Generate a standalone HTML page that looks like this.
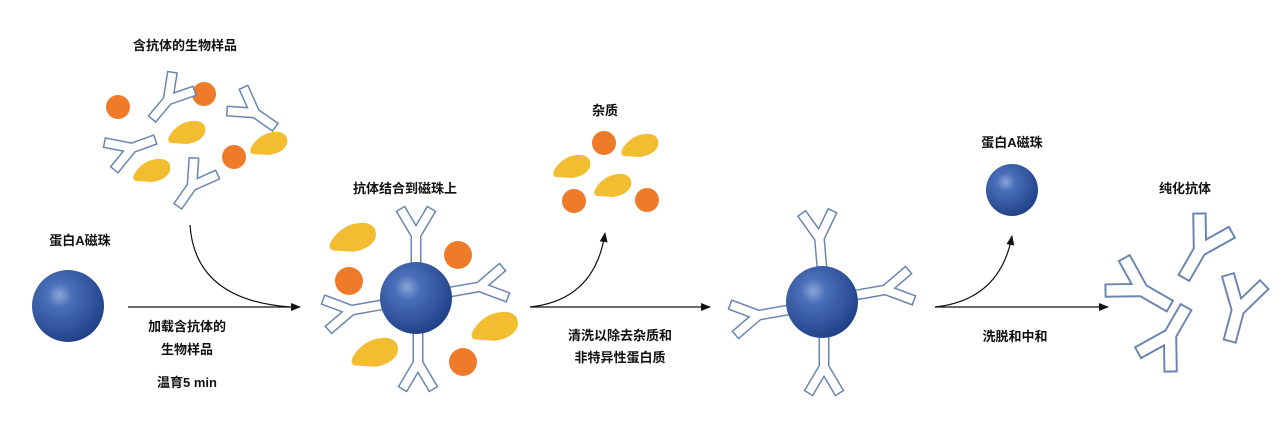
<!DOCTYPE html>
<html><head><meta charset="utf-8"><style>
body{margin:0;background:#fff;}
text{font-family:"Liberation Sans","Noto Sans CJK SC",sans-serif;font-weight:bold;font-size:13px;fill:#111;text-anchor:middle;}
</style></head><body>
<svg width="1280" height="426" viewBox="0 0 1280 426" xmlns="http://www.w3.org/2000/svg">
<defs>
<radialGradient id="bg" cx="0.38" cy="0.35" r="0.7">
<stop offset="0" stop-color="#8aa6da"/><stop offset="0.25" stop-color="#4a6fb8"/><stop offset="1" stop-color="#1e3f86"/>
</radialGradient>
<g id="ab">
<path d="M0,20 L0,0 M-12,-20 L0,0 L12,-20" fill="none" stroke="#6a86b0" stroke-width="11" stroke-linecap="square"/>
<path d="M0,20 L0,0 M-12,-20 L0,0 L12,-20" fill="none" stroke="#fff" stroke-width="8" stroke-linecap="square"/>
</g>
<g id="abb">
<path d="M0,0 L0,-30 M-13,-52 L0,-30 L13,-52" fill="none" stroke="#6a86b0" stroke-width="11" stroke-linecap="square"/>
<path d="M0,0 L0,-30 M-13,-52 L0,-30 L13,-52" fill="none" stroke="#fff" stroke-width="8" stroke-linecap="square"/>
</g>
<path id="tri" d="M-16,10 Q-22,8 -15,-1 Q-5,-13 10,-12 Q20,-10 18,0 Q14,9 0,11 Z" fill="#f2bd30"/>
<marker id="ah" markerWidth="10" markerHeight="8" refX="9" refY="4" orient="auto" markerUnits="userSpaceOnUse"><path d="M0,0 L10,4 L0,8 Z" fill="#111"/></marker>
</defs>

<circle cx="118" cy="107" r="12" fill="#ef7a2a"/>
<circle cx="204" cy="94" r="12" fill="#ef7a2a"/>
<circle cx="234" cy="157" r="12" fill="#ef7a2a"/>
<use href="#ab" transform="translate(168,100) rotate(40)"/>
<use href="#ab" transform="translate(255,113) rotate(-55)"/>
<use href="#ab" transform="translate(132,148) rotate(-110)"/>
<use href="#ab" transform="translate(192,186) rotate(35)"/>
<use href="#tri" transform="translate(187,133)"/>
<use href="#tri" transform="translate(269,144)"/>
<use href="#tri" transform="translate(152,171)"/>
<text x="185" y="50">含抗体的生物样品</text>

<circle cx="68" cy="306" r="36" fill="url(#bg)"/>
<text x="80" y="245">蛋白A磁珠</text>

<path d="M128,307 L300,307" stroke="#111" stroke-width="1.2" marker-end="url(#ah)"/>
<path d="M190,225 Q195,300 290,307" fill="none" stroke="#111" stroke-width="1.2"/>
<text x="187" y="331">加载含抗体的</text>
<text x="187" y="354">生物样品</text>
<text x="187" y="387">温育5 min</text>

<use href="#abb" transform="translate(416,265) rotate(0)"/>
<use href="#abb" transform="translate(450,292) rotate(80)"/>
<use href="#abb" transform="translate(381,305) rotate(-100)"/>
<use href="#abb" transform="translate(418,333) rotate(180)"/>
<circle cx="416" cy="298" r="36" fill="url(#bg)"/>
<circle cx="349" cy="281" r="14" fill="#ef7a2a"/>
<circle cx="458" cy="255" r="14" fill="#ef7a2a"/>
<circle cx="463" cy="362" r="14" fill="#ef7a2a"/>
<use href="#tri" transform="translate(353,238) scale(1.25)"/>
<use href="#tri" transform="translate(495,327) scale(1.25)"/>
<use href="#tri" transform="translate(375,353) scale(1.25)"/>
<text x="405" y="193">抗体结合到磁珠上</text>

<path d="M530,307 L710,307" stroke="#111" stroke-width="1.2" marker-end="url(#ah)"/>
<path d="M530,307 Q595,300 605,233" fill="none" stroke="#111" stroke-width="1.2" marker-end="url(#ah)"/>
<text x="605" y="115">杂质</text>
<circle cx="604" cy="143" r="12" fill="#ef7a2a"/>
<circle cx="574" cy="201" r="12" fill="#ef7a2a"/>
<circle cx="647" cy="200" r="12" fill="#ef7a2a"/>
<use href="#tri" transform="translate(572,167)"/>
<use href="#tri" transform="translate(640,146)"/>
<use href="#tri" transform="translate(613,186)"/>
<text x="620" y="340">清洗以除去杂质和</text>
<text x="620" y="362">非特异性蛋白质</text>

<use href="#abb" transform="translate(822,268) rotate(-5)"/>
<use href="#abb" transform="translate(856,295) rotate(80)"/>
<use href="#abb" transform="translate(788,310) rotate(-100)"/>
<use href="#abb" transform="translate(824,337) rotate(180)"/>
<circle cx="822" cy="302" r="36" fill="url(#bg)"/>

<path d="M935,307 L1108,307" stroke="#111" stroke-width="1.2" marker-end="url(#ah)"/>
<path d="M935,307 Q1000,300 1012,236" fill="none" stroke="#111" stroke-width="1.2" marker-end="url(#ah)"/>
<text x="1012" y="147">蛋白A磁珠</text>
<circle cx="1012" cy="190" r="26" fill="url(#bg)"/>
<text x="1015" y="341">洗脱和中和</text>
<text x="1185" y="193">纯化抗体</text>

<use href="#ab" transform="translate(1200,250) rotate(30) scale(1.3)"/>
<use href="#ab" transform="translate(1142,290) rotate(-60) scale(1.3)"/>
<use href="#ab" transform="translate(1238,310) rotate(15) scale(1.3)"/>
<use href="#ab" transform="translate(1170,335) rotate(210) scale(1.3)"/>
</svg>
</body></html>
